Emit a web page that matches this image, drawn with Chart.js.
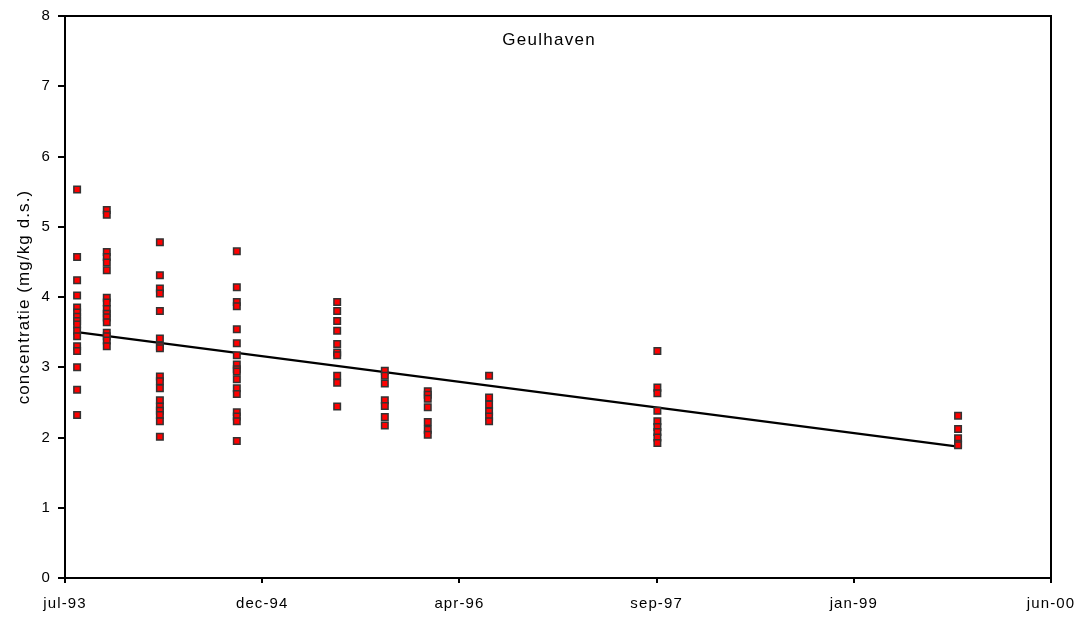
<!DOCTYPE html>
<html lang="nl">
<head>
  <meta charset="UTF-8">
  <title>Geulhaven</title>
  <script src="https://cdn.jsdelivr.net/npm/chart.js"></script>
  <style>
    html, body { margin: 0; padding: 0; background: #fff; }
    #wrap { width: 1084px; height: 621px; position: relative; }
  </style>
</head>
<body>
  <div id="wrap"><canvas id="chart"></canvas></div>

  <script>
    // Start van de datum-as en afstand tussen de labels (dagen)
    const axisStart = '1993-07-15';
    const tickStepDays = 505;
    const tickLabels = ['jul-93', 'dec-94', 'apr-96', 'sep-97', 'jan-99', 'jun-00'];

    // Bemonsteringsdata
    const sampleDates = [
      '1993-08-15', '1993-10-30', '1994-03-15', '1994-09-28', '1995-06-12',
      '1995-10-12', '1996-01-30', '1996-07-05', '1997-09-09', '1999-10-19'
    ];
    const sampleValues = [
      [5.53, 4.57, 4.24, 4.02, 3.85, 3.78, 3.72, 3.66, 3.61, 3.52, 3.44, 3.30, 3.23, 3.00, 2.68, 2.32],
      [5.24, 5.17, 4.64, 4.57, 4.49, 4.38, 3.99, 3.92, 3.83, 3.76, 3.71, 3.64, 3.49, 3.44, 3.38, 3.30],
      [4.78, 4.31, 4.12, 4.05, 3.80, 3.41, 3.30, 3.27, 2.87, 2.80, 2.70, 2.53, 2.44, 2.38, 2.32, 2.23, 2.01],
      [4.65, 4.14, 3.93, 3.87, 3.54, 3.34, 3.17, 3.04, 2.97, 2.94, 2.83, 2.70, 2.62, 2.36, 2.30, 2.23, 1.95],
      [3.93, 3.80, 3.66, 3.52, 3.33, 3.21, 3.17, 2.88, 2.78, 2.44],
      [2.95, 2.88, 2.77, 2.53, 2.45, 2.29, 2.17],
      [2.66, 2.61, 2.55, 2.43, 2.22, 2.11, 2.04],
      [2.88, 2.57, 2.47, 2.37, 2.30, 2.23],
      [3.23, 2.71, 2.63, 2.38, 2.23, 2.15, 2.08, 2.00, 1.92],
      [2.31, 2.12, 1.99, 1.91, 1.89]
    ];

    // Trendlijn: begin- en eindwaarde
    const trendDates = ['1993-08-15', '1999-10-19'];
    const trendValues = [3.50, 1.87];

    const DAY = 86400000;
    const dayOf = d => Math.round((Date.parse(d) - Date.parse(axisStart)) / DAY);

    const points = [];
    sampleDates.forEach((d, i) => {
      sampleValues[i].forEach(v => points.push({ x: dayOf(d), y: v }));
    });
    const trend = trendDates.map((d, i) => ({ x: dayOf(d), y: trendValues[i] }));

    const family = '"Liberation Sans", Arial, sans-serif';

    // wat ruimere letters, zoals de oude Excel-export
    const spacing = {
      id: 'spacing',
      beforeLayout(chart) { chart.ctx.letterSpacing = '1.1px'; },
      beforeDraw(chart) { chart.ctx.letterSpacing = '1.1px'; }
    };

    // Kader rond het plotgebied en de titel binnen de grafiek
    const frame = {
      id: 'frame',
      afterDraw(chart) {
        const { ctx, chartArea: a } = chart;
        ctx.save();
        ctx.strokeStyle = '#000';
        ctx.lineWidth = 2;
        ctx.strokeRect(a.left, a.top, a.right - a.left, a.bottom - a.top);
        ctx.fillStyle = '#000';
        ctx.letterSpacing = '1.3px';
        ctx.font = '17px ' + family;
        ctx.textAlign = 'center';
        ctx.textBaseline = 'middle';
        ctx.fillText('Geulhaven', a.left + (a.right - a.left) * 0.491, 40);
        ctx.restore();
      }
    };

    const font = { family, size: 15 };

    new Chart(document.getElementById('chart'), {
      type: 'scatter',
      data: {
        datasets: [
          {
            data: points,
            pointStyle: 'rect',
            pointRadius: 4.6,
            pointBackgroundColor: '#ff0000',
            pointBorderColor: '#333',
            pointBorderWidth: 1.5
          },
          {
            data: trend,
            showLine: true,
            borderColor: '#000',
            borderWidth: 2.2,
            pointRadius: 0
          }
        ]
      },
      options: {
        responsive: true,
        maintainAspectRatio: false,
        animation: false,
        layout: { padding: { top: 14, right: 33, left: 0, bottom: 0 } },
        plugins: {
          legend: { display: false },
          tooltip: { enabled: false }
        },
        scales: {
          x: {
            type: 'linear',
            min: 0,
            max: tickStepDays * (tickLabels.length - 1),
            afterBuildTicks: scale => {
              scale.ticks = tickLabels.map((_, i) => ({ value: i * tickStepDays }));
            },
            afterFit: scale => {
              scale.height = 43;
              scale.paddingLeft = 0;
              scale.paddingRight = 0;
            },
            ticks: {
              color: '#000',
              font,
              padding: 12,
              maxRotation: 0,
              callback: (v, i) => tickLabels[i]
            },
            grid: { drawOnChartArea: false, tickLength: 5, color: '#000', lineWidth: 2 },
            border: { display: true, color: '#000', width: 2 }
          },
          y: {
            min: 0,
            max: 8,
            afterFit: scale => { scale.width = 65; },
            ticks: { stepSize: 1, color: '#000', font, padding: 7 },
            grid: { drawOnChartArea: false, tickLength: 7, color: '#000', lineWidth: 2 },
            border: { display: true, color: '#000', width: 2 },
            title: {
              display: true,
              text: 'concentratie (mg/kg d.s.)',
              color: '#000',
              font: { family, size: 17 },
              padding: { top: 14, bottom: 0 }
            }
          }
        }
      },
      plugins: [spacing, frame]
    });
  </script>
</body>
</html>
